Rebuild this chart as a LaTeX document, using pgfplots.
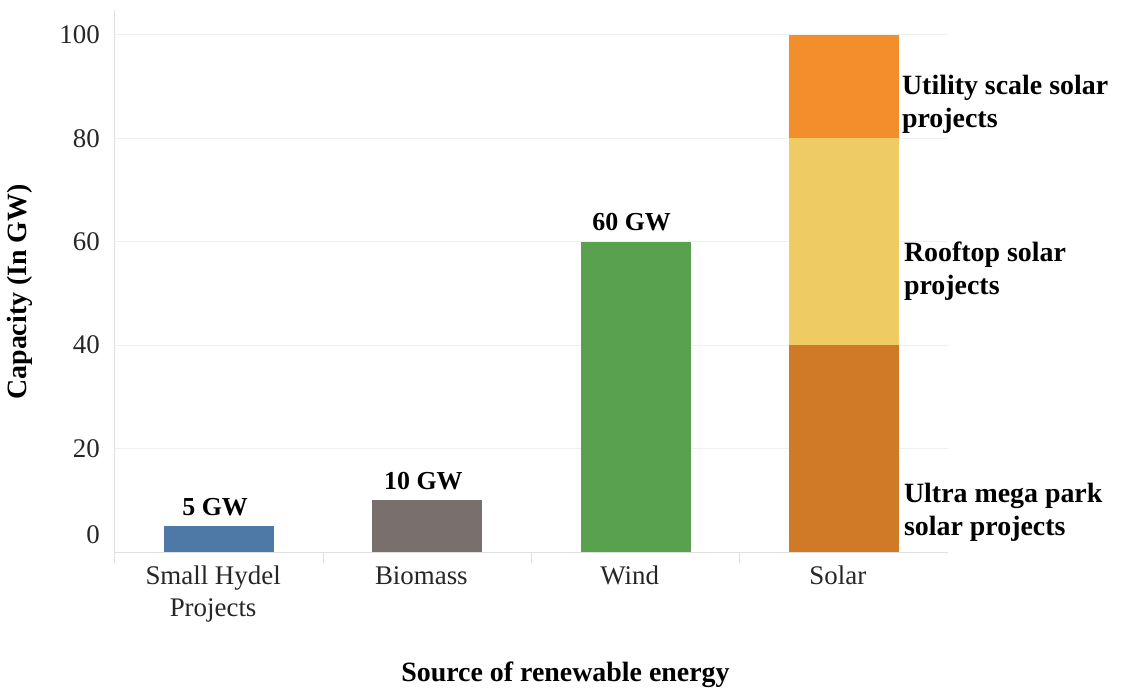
\documentclass[border=0pt]{standalone}
\usepackage{pgfplots}
\pgfplotsset{compat=1.18}
\usepackage{pgfplotstable}
\usepackage{fontspec}
\setmainfont{Liberation Serif}
\definecolor{hydel}{HTML}{4E79A7}
\definecolor{biomass}{HTML}{79706E}
\definecolor{wind}{HTML}{59A14F}
\definecolor{ultra}{HTML}{D07A28}
\definecolor{rooftop}{HTML}{EFCB63}
\definecolor{utility}{HTML}{F28E2B}
\newcommand\lbl{\fontsize{26}{32}\selectfont}
\newcommand\tlbl{\fontsize{27}{32}\selectfont}
\newcommand\ann{\fontsize{28}{33}\selectfont}
\tikzset{vl/.style={font=\lbl\bfseries, inner sep=0pt},
         an/.style={font=\ann\bfseries, inner sep=0pt, anchor=north west, align=left}}
\pgfplotstableread{
x hydel biomass wind ultra rooftop utility
0 5 0 0 0 0 0
1 0 10 0 0 0 0
2 0 0 60 0 0 0
3 0 0 0 40 40 20
}\energydata
\begin{document}
\begin{tikzpicture}
\begin{axis}[
  scale only axis, width=833bp, height=542bp,
  clip=false,
  xmin=-0.5, xmax=3.5, ymin=0, ymax=104.8,
  ybar stacked, bar width=110bp,
  axis x line*=bottom, axis y line*=left,
  axis line style={draw=black!12, line width=1bp},
  xtick={0,1,2,3},
  xticklabels={{Small Hydel\\Projects},Biomass,Wind,Solar},
  ytick={0,20,40,60,80,100},
  yticklabel={\ifdim\tick pt<1pt\raisebox{17bp}[\height][\depth]{0}\else\pgfmathprintnumber{\tick}\fi},
  extra x ticks={-0.5,0.5,1.5,2.5},
  extra x tick labels={},
  extra x tick style={major tick length=11bp, tick align=outside},
  every tick/.style={draw=black!12, line width=1bp},
  ymajorgrids, grid style={draw=black!6, line width=1bp},
  major tick length=0pt,
  /pgf/number format/assume math mode=true,
  tick label style={font=\tlbl, text=black!85},
  xticklabel style={align=center, anchor=north, inner sep=0pt, yshift=-14bp, xshift=-6bp},
  yticklabel style={anchor=east, inner sep=0pt, xshift=-15bp},
  xlabel={Source of renewable energy},
  ylabel={Capacity (In GW)},
  label style={font=\ann\bfseries},
  xlabel style={at={(axis description cs:0.5408,-0.227)}, anchor=center},
  ylabel style={at={(axis description cs:-0.114,0.48)}, anchor=center},
]
\addplot[fill=hydel, draw=none] table[x=x, y=hydel]{\energydata};
\addplot[fill=biomass, draw=none] table[x=x, y=biomass]{\energydata};
\addplot[fill=wind, draw=none] table[x=x, y=wind]{\energydata};
\addplot[fill=ultra, draw=none] table[x=x, y=ultra]{\energydata};
\addplot[fill=rooftop, draw=none] table[x=x, y=rooftop]{\energydata};
\addplot[fill=utility, draw=none] table[x=x, y=utility]{\energydata};
\node[vl, anchor=base, yshift=11bp, xshift=-4bp] at (axis cs:0,5) {5 GW};
\node[vl, anchor=base, yshift=11bp, xshift=-4bp] at (axis cs:1,10) {10 GW};
\node[vl, anchor=base, yshift=11bp, xshift=-4bp] at (axis cs:2,60) {60 GW};
\node[vl, anchor=center, xshift=-6bp] at (axis cs:3,90) {20 GW};
\node[vl, anchor=center, xshift=-6bp] at (axis cs:3,60) {40 GW};
\node[vl, anchor=center, xshift=-6bp] at (axis cs:3,20) {40 GW};
\node[an, xshift=58bp] at (axis cs:3,92.3) {Utility scale solar\\projects};
\node[an, xshift=60bp] at (axis cs:3,60) {Rooftop solar\\projects};
\node[an, xshift=60bp] at (axis cs:3,13.3) {Ultra mega park\\solar projects};
\end{axis}
\pgfresetboundingbox
\useasboundingbox ([shift={(-115bp,-140bp)}]current axis.south west) rectangle ([shift={(181bp,10bp)}]current axis.north east);
\end{tikzpicture}
\end{document}
